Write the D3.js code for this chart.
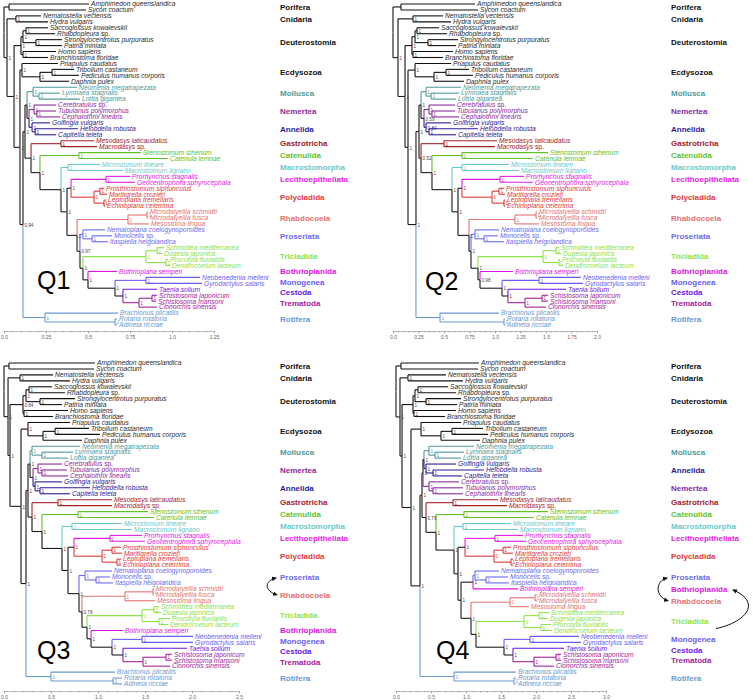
<!DOCTYPE html>
<html><head><meta charset="utf-8">
<script src="https://cdn.jsdelivr.net/npm/d3@7"></script>
<style>body{margin:0;background:#fff} svg{display:block;font-family:"Liberation Sans",Arial,sans-serif}</style>
</head><body><svg id="c" width="753" height="700"></svg>
<script>
// ---------- DATA ----------
const taxa = ["Amphimedon queenslandica","Sycon coactum","Nematostella vectensis","Hydra vulgaris","Saccoglossus kowalevskii","Rhabdopleura sp.","Strongylocentrotus purpuratus","Patiria miniata","Homo sapiens","Branchiostoma floridae","Priapulus caudatus","Tribolium castaneum","Pediculus humanus corporis","Daphnia pulex","Neomenia megatrapezata","Lymnaea stagnalis","Lottia gigantea","Cerebratulus sp.","Tubulanus polymorphus","Cephalothrix linearis","Golfingia vulgaris","Helobdella robusta","Capitella teleta","Mesodasys laticaudatus","Macrodasys sp.","Stenostomum sthenum","Catenula lemnae","Microstomum lineare","Macrostomum lignano","Prorhynchus stagnalis","Geocentrophora sphyrocephala","Prosthiostomum siphunculus","Maritigrella crozieri","Leptoplana tremellaris","Echinoplana celerrima","Microdalyellia schmidti","Microdalyellia fusca","Mesostoma lingua","Nematoplana coelogynoporoides","Monocelis sp.","Itaspiella helgolandica","Schmidtea mediterranea","Dugesia japonica","Procotyla fluviatilis","Dendrocoelum lacteum","Bothrioplana semperi","Neobenedenia melleni","Gyrodactylus salaris","Taenia solium","Schistosoma japonicum","Schistosoma mansoni","Clonorchis sinensis","Brachionus plicatilis","Rotaria rotatoria","Adineta ricciae"];
const cladeNames = ["Porifera","Cnidaria","Deuterostomia","Ecdysozoa","Mollusca","Nemertea","Annelida","Gastrotricha","Catenulida","Macrostomorpha","Lecithoepitheliata","Polycladida","Rhabdocoela","Proseriata","Tricladida","Bothrioplanida","Monogenea","Cestoda","Trematoda","Rotifera"];
const cladeColors = ["#111111","#111111","#111111","#111111","#4f9a9a","#8a2a9c","#2c1b94","#a4202a","#60c22a","#6ac9c9","#e41ae4","#e03a3a","#e27373","#6b6bf2","#8ce24a","#dc16dc","#6a5ef2","#6a14e6","#a2229a","#6a9ad0"];
const taxonClade = [0,0,1,1,2,2,2,2,2,2,3,3,3,3,4,4,4,5,5,5,6,6,6,7,7,8,8,9,9,10,10,11,11,11,11,12,12,12,13,13,13,14,14,14,14,15,16,16,17,18,18,18,19,19,19];

// Newick trees: leaves are indices into taxa; internal labels = posterior support; number after ':' = node depth from root
const treeQ1 = "((0:.506,1:.488):.030,((2:.220,3:.262)1:.071,((((4:.262,5:.304)1:.131,(6:.345,7:.345)1:.190)1:.113,(8:.310,9:.262)1:.113)1:.101,((10:.321,((11:.417,12:.446)1:.286,13:.387)1:.214)1:.107,((((14:.435,(15:.333,16:.452)1:.208)1:.173,((17:.310,(18:.310,19:.333)1:.196)1:.179,(20:.274,(21:.440,22:.310)1:.185)1:.167)1:.149)1:.137,((23:.536,24:.554)1:.339,((25:.815,26:.976)1:.446,((27:.571,28:.708)1:.381,(((29:.750,30:.780)1:.607,((31:.595,32:.613)1:.571,(33:.607,34:.601)1:.595)1:.536)1:.399,(((35:.857,36:.857)1:.851,37:.863)1:.738,((38:.601,(39:.643,40:.619)1:.524)1:.470,(((41:.952,42:.940)1:.911,(43:.976,44:.988)1:.964)1:.845,(45:.673,((46:1.167,47:1.179)1:.845,(48:.911,((49:.911,50:.905)1:.881,51:.911)1:.804)1:.708)1:.661)1:.500)1:.470)0.97:.452)1:.435)1:.375)1:.339)1:.214)1:.161)1:.125,(52:.679,(53:.673,54:.673)1:.661)1:.244)0.94:.113)1:.095)1:.060)1:.018):0;";
const treeQ2 = "((0:.804,1:.833):.078,((2:.490,3:.569)1:.196,((((4:.451,5:.529)1:.235,(6:.637,7:.618)1:.343)1:.216,(8:.588,9:.490)1:.196)1:.186,((10:.569,((11:.745,12:.784)1:.520,13:.696)1:.402)1:.216,((((14:.667,(15:.647,16:.618)1:.373)1:.324,((17:.608,(18:.608,19:.647)1:.382)1:.353,(20:.569,(21:.833,22:.618)1:.353)0.84:.324)0.59:.304)1:.275,((23:1.020,24:1.000)1:.500,((25:1.520,26:1.373)1:.676,((27:1.137,28:1.235)1:.676,(((29:1.284,30:1.373)1:1.049,((31:1.088,32:1.098)1:1.039,(33:1.098,34:1.098)1:1.088)1:.971)1:.676,(((35:1.412,36:1.412)1:1.402,37:1.431)1:1.196,((38:1.039,(39:1.029,40:1.088)1:.892)1:.804,(((41:1.627,42:1.647)1:1.598,(43:1.637,44:1.667)1:1.627)1:1.471,(45:1.176,((46:1.843,47:1.863)1:1.431,(48:1.696,((49:1.520,50:1.520)1:1.461,51:1.500)1:1.294)1:1.127)1:1.069)0.98:.853)1:.833)1:.765)1:.745)1:.637)1:.578)1:.382)0.52:.275)1:.255,(52:1.039,(53:1.098,54:1.098)1:1.088)1:.461)1:.225)1:.147)1:.118)1:.049):0;";
const treeQ3 = "((0:.968,1:.957):.053,((2:.521,3:.702)1:.170,((((4:.511,5:.649)1:.266,(6:.755,7:.617)1:.383)1:.234,(8:.681,9:.521)1:.213)0.84:.202,((10:.702,((11:.904,12:1.021)1:.543,13:.830)1:.415)1:.255,((((14:.809,(15:.734,16:.681)1:.404)1:.298,((17:.617,(18:.670,19:.681)1:.404)1:.362,(20:.617,(21:.915,22:.702)1:.383)1:.330)1:.309)1:.277,((23:1.149,24:1.149)1:.574,((25:1.532,26:1.596)1:.787,((27:1.255,28:1.362)1:.723,(((29:1.468,30:1.500)1:1.128,((31:1.245,32:1.255)1:1.149,(33:1.245,34:1.245)1:1.202)1:1.043)1:.745,((38:1.149,(39:1.128,40:1.160)1:.979)1:.862,(((35:1.596,36:1.596)1:1.585,37:1.606)1:1.287,(((41:1.649,42:1.670)1:1.596,(43:1.766,44:1.745)1:1.649)1:1.468,(45:1.266,((46:2.011,47:2.011)1:1.468,(48:1.947,((49:1.787,50:1.787)1:1.723,51:1.766)1:1.479)1:1.266)1:1.149)1:.926)1:.883)0.78:.830)1:.798)1:.681)1:.617)1:.404)1:.298)1:.255,(52:1.181,(53:1.255,54:1.255)1:1.160)1:.500)1:.234)1:.181)1:.064)1:.043):0;";
const treeQ4 = "((0:1.186,1:1.171):.071,((2:.714,3:.957)1:.171,((((4:.743,5:.857)1:.314,(6:.929,7:.871)1:.429)1:.271,(8:.857,9:.700)1:.257)1:.243,((10:.929,((11:1.243,12:1.314)1:.800,13:1.200)1:.643)1:.357,(((((14:1.114,(15:.971,16:.929)1:.557)1:.471,(20:.857,(21:1.257,22:.943)1:.529)1:.429)1:.400,(17:.900,(18:.957,19:.957)1:.529)1:.471)1:.386,((23:1.457,24:1.586)1:.814,((25:2.171,26:1.971)1:.971,((27:1.643,28:1.743)1:.957,(((29:1.814,30:1.857)1:1.414,((31:1.643,32:1.671)1:1.529,(33:1.671,34:1.671)1:1.643)1:1.400)1:.986,(((38:1.471,(39:1.600,40:1.614)1:1.286)1:1.129,45:1.743)1:1.100,(((35:2.014,36:2.014)1:1.986,37:1.900)1:1.629,(((41:2.186,42:2.171)1:2.043,(43:2.214,44:2.229)1:2.071)1:1.829,((46:2.614,47:2.643)1:1.914,(48:2.400,((49:2.357,50:2.357)1:2.286,51:2.257)1:1.971)1:1.671)1:1.543)1:1.143)1:1.071)1:.929)1:.886)1:.829)1:.571)0.79:.429)1:.371,(52:1.714,(53:1.714,54:1.714)1:1.686)1:.829)1:.343)1:.214)1:.086)1:.057):0;";

const panelNames = ["Q1","Q2","Q3","Q4"];
const axisMax = [1.25, 2.0, 2.5, 3.0];
const tickValues = [[0,0.25,0.5,0.75,1.0,1.25],[0,0.25,0.5,0.75,1.0,1.25,1.5,1.75,2.0],[0,0.5,1.0,1.5,2.0,2.5],[0,0.5,1.0,1.5,2.0,2.5,3.0]];
const tickLabels = [["0.0","0.25","0.5","0.75","1.0","1.25"],["0.0","0.25","0.5","0.75","1.0","1.25","1.5","1.75","2.0"],["0.0","0.5","1.0","1.5","2.0","2.5"],["0.0","0.5","1.0","1.5","2.0","2.5","3.0"]];
const minorStep = [0.05, 0.05, 0.1, 0.1];
const arrowPairs = [[], [], [["Proseriata","Rhabdocoela"]], [["Proseriata","Rhabdocoela"],["Tricladida","Bothrioplanida"]]];

// ---------- LAYOUT ----------
const panels = [
  {tree: treeQ1, x0: 4,   x1: 214, top: 4,   axisY: 331, labelX: 280, q:[37,289]},
  {tree: treeQ2, x0: 393, x1: 597, top: 4,   axisY: 331, labelX: 671, q:[425,290]},
  {tree: treeQ3, x0: 4,   x1: 239, top: 363, axisY: 691, labelX: 280, q:[37,659]},
  {tree: treeQ4, x0: 396, x1: 606, top: 363, axisY: 691, labelX: 671, q:[436,659]}
];
const LEAF_STEP = 5.944;
const BACK = "#1c1c1c", BACKV = "#7d7d7d";

function parseNewick(s){
  let i = 0;
  function node(){
    const n = {children: []};
    if (s[i] === '('){
      i++;
      n.children.push(node());
      while (s[i] === ','){ i++; n.children.push(node()); }
      i++;
    }
    let name = '';
    while (i < s.length && !',():;'.includes(s[i])) name += s[i++];
    if (s[i] === ':'){ i++; let num=''; while (i < s.length && !',();'.includes(s[i])) num += s[i++]; n.depth = +num; }
    if (n.children.length){ n.support = name; } else { n.leaf = +name; delete n.children; }
    return n;
  }
  return node();
}

const svg = d3.select("#c");
const defs = svg.append("defs");
defs.append("marker").attr("id","ah").attr("viewBox","0 0 10 10").attr("refX",8).attr("refY",5)
  .attr("markerWidth",5).attr("markerHeight",5).attr("orient","auto-start-reverse")
  .append("path").attr("d","M0,0.5 L10,5 L0,9.5 z").attr("fill","#111");

function leafText(sel, name){
  const m = name.match(/^(.*) (sp\.)$/);
  if (m){
    sel.append("tspan").attr("font-style","italic").text(m[1] + " ");
    sel.append("tspan").attr("font-style","normal").text(m[2]);
  } else sel.attr("font-style","italic").text(name);
}

panels.forEach((p, pi) => {
  const g = svg.append("g");
  const root = d3.hierarchy(parseNewick(p.tree));
  const x = d3.scaleLinear().domain([0, axisMax[pi]]).range([p.x0, p.x1]);
  const leaves = root.leaves();
  const y = d3.scaleLinear().domain([0, 54]).range([p.top, p.top + 54*LEAF_STEP]);
  leaves.forEach((l, i) => { l.py = y(i); });
  root.eachAfter(d => {
    d.px = x(d.data.depth);
    if (d.children) d.py = (d.children[0].py + d.children[d.children.length-1].py)/2;
    const cs = new Set(d.leaves().map(l => taxonClade[l.data.leaf]));
    d.clade = cs.size === 1 ? [...cs][0] : -1;
  });
  const col = d => d.clade >= 0 ? cladeColors[d.clade] : BACK;
  const links = root.descendants().filter(d => d.parent);
  // vertical parts
  g.selectAll("path.v").data(links).join("path")
    .attr("d", d => `M${d.parent.px},${d.parent.py}V${d.py}`)
    .attr("fill","none")
    .attr("stroke", d => d.clade >= 0 ? cladeColors[d.clade] : BACKV)
    .attr("stroke-width", d => d.clade >= 0 ? 1.1 : 2);
  // horizontal parts
  g.selectAll("path.h").data(links).join("path")
    .attr("d", d => `M${d.parent.px},${d.py}H${d.px}`)
    .attr("fill","none").attr("stroke", col).attr("stroke-width", 1.1);
  // support values
  g.selectAll("text.s").data(root.descendants().filter(d => d.children && d.data.support))
    .join("text")
    .attr("x", d => d.px + 1.5).attr("y", d => d.py + 2.2)
    .attr("font-size", 4.6).attr("fill", d => d.clade >= 0 && d.clade > 3 ? cladeColors[d.clade] : "#444")
    .text(d => d.data.support);
  // leaf labels
  leaves.forEach(l => {
    const c = taxonClade[l.data.leaf];
    const t = g.append("text").attr("x", l.px + 2).attr("y", l.py + 2.3)
      .attr("font-size", 6.7).attr("fill", c <= 3 ? "#2a2a2a" : cladeColors[c]);
    leafText(t, taxa[l.data.leaf]);
  });
  // clade labels
  const lab = cladeNames.map((nm, ci) => {
    const ys = leaves.filter(l => taxonClade[l.data.leaf] === ci).map(l => l.py);
    return {ci, nm, y: d3.mean(ys)};
  }).sort((a,b) => a.y - b.y);
  for (let k = 1; k < lab.length; k++) if (lab[k].y - lab[k-1].y < 10.5) lab[k].y = lab[k-1].y + 10.5;
  const labY = {};
  lab.forEach(o => {
    labY[o.nm] = o.y;
    g.append("text").attr("x", p.labelX).attr("y", o.y).attr("dy","0.35em")
      .attr("font-size", 8).attr("font-weight","bold").attr("fill", cladeColors[o.ci]).text(o.nm);
  });
  // arrows
  arrowPairs[pi].forEach((pr, k) => {
    const lx = p.labelX;
    let d;
    if (k === 0){
      const a = labY[pr[0]], b = labY[pr[1]];
      d = `M${lx-4},${a+1} C${lx-16},${a+4} ${lx-16},${b-4} ${lx-3},${b}`;
      g.append("path").attr("d", d).attr("fill","none").attr("stroke","#111").attr("stroke-width",1)
        .attr("marker-start","url(#ah)").attr("marker-end","url(#ah)");
    } else {
      const t = labY[pr[0]], b = labY[pr[1]];
      d = `M${lx+45},${t+7} C${lx+74},${t+1} ${lx+92},${b+14} ${lx+62},${b+1}`;
      g.append("path").attr("d", d).attr("fill","none").attr("stroke","#111").attr("stroke-width",1)
        .attr("marker-end","url(#ah)");
    }
  });
  // axis
  const ax = g.append("g").attr("transform", `translate(0,${p.axisY})`);
  ax.call(d3.axisBottom(x).tickValues(tickValues[pi]).tickFormat((d,i) => tickLabels[pi][i]).tickSize(2.5).tickSizeOuter(0).tickPadding(1.5));
  const minors = d3.range(0, axisMax[pi] + 1e-9, minorStep[pi]);
  ax.append("g").call(d3.axisBottom(x).tickValues(minors).tickFormat("").tickSize(1.5).tickSizeOuter(0))
    .select(".domain").remove();
  ax.selectAll("path,line").attr("stroke","#999").attr("stroke-width",0.7);
  ax.selectAll("text").attr("font-size",5).attr("fill","#666").attr("font-family","Liberation Sans, Arial, sans-serif");
  // panel title
  g.append("text").attr("x", p.q[0]).attr("y", p.q[1]).attr("font-size", 25).attr("fill","#000").text(panelNames[pi]);
});
</script></body></html>
